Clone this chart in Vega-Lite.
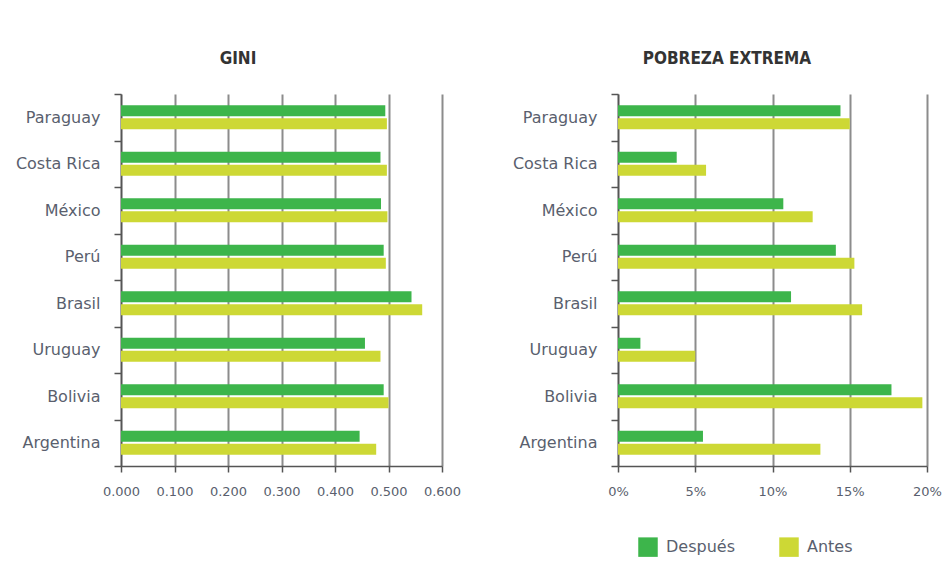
{
  "$schema": "https://vega.github.io/schema/vega-lite/v6.json",
  "background": "white",
  "padding": {"left": 15, "top": 50, "right": 10, "bottom": 5},
  "datasets": {
    "gini": [
      {"pais": "Paraguay", "serie": "Después", "valor": 0.494},
      {"pais": "Paraguay", "serie": "Antes", "valor": 0.497},
      {"pais": "Costa Rica", "serie": "Después", "valor": 0.485},
      {"pais": "Costa Rica", "serie": "Antes", "valor": 0.497},
      {"pais": "México", "serie": "Después", "valor": 0.486},
      {"pais": "México", "serie": "Antes", "valor": 0.498},
      {"pais": "Perú", "serie": "Después", "valor": 0.491},
      {"pais": "Perú", "serie": "Antes", "valor": 0.495},
      {"pais": "Brasil", "serie": "Después", "valor": 0.543},
      {"pais": "Brasil", "serie": "Antes", "valor": 0.563},
      {"pais": "Uruguay", "serie": "Después", "valor": 0.456},
      {"pais": "Uruguay", "serie": "Antes", "valor": 0.485},
      {"pais": "Bolivia", "serie": "Después", "valor": 0.491},
      {"pais": "Bolivia", "serie": "Antes", "valor": 0.500},
      {"pais": "Argentina", "serie": "Después", "valor": 0.446},
      {"pais": "Argentina", "serie": "Antes", "valor": 0.477}
    ],
    "pobreza": [
      {"pais": "Paraguay", "serie": "Después", "valor": 0.144},
      {"pais": "Paraguay", "serie": "Antes", "valor": 0.150},
      {"pais": "Costa Rica", "serie": "Después", "valor": 0.038},
      {"pais": "Costa Rica", "serie": "Antes", "valor": 0.057},
      {"pais": "México", "serie": "Después", "valor": 0.107},
      {"pais": "México", "serie": "Antes", "valor": 0.126},
      {"pais": "Perú", "serie": "Después", "valor": 0.141},
      {"pais": "Perú", "serie": "Antes", "valor": 0.153},
      {"pais": "Brasil", "serie": "Después", "valor": 0.112},
      {"pais": "Brasil", "serie": "Antes", "valor": 0.158},
      {"pais": "Uruguay", "serie": "Después", "valor": 0.0145},
      {"pais": "Uruguay", "serie": "Antes", "valor": 0.050},
      {"pais": "Bolivia", "serie": "Después", "valor": 0.177},
      {"pais": "Bolivia", "serie": "Antes", "valor": 0.197},
      {"pais": "Argentina", "serie": "Después", "valor": 0.055},
      {"pais": "Argentina", "serie": "Antes", "valor": 0.131}
    ]
  },
  "config": {
    "font": "DejaVu Sans",
    "view": {"stroke": null},
    "title": {"fontSize": 17, "fontWeight": "bold", "color": "#333333", "font": "DejaVu Sans Condensed", "offset": 18, "frame": "bounds", "anchor": "middle"},
    "axis": {
      "labelColor": "#5a5f6e",
      "labelFont": "DejaVu Sans",
      "domainColor": "#555555",
      "tickColor": "#555555",
      "gridColor": "#8c8c8c",
      "title": null
    },
    "legend": {"labelFont": "DejaVu Sans"}
  },
  "hconcat": [
    {
      "title": "GINI",
      "data": {"name": "gini"},
      "width": 321,
      "height": 372,
      "mark": {"type": "bar", "clip": false},
      "encoding": {
        "y": {
          "field": "pais", "type": "nominal",
          "sort": ["Paraguay", "Costa Rica", "México", "Perú", "Brasil", "Uruguay", "Bolivia", "Argentina"],
          "scale": {"paddingInner": 0, "paddingOuter": 0},
          "axis": {"tickBand": "extent", "tickSize": 7, "labelPadding": 14, "labelFontSize": 16, "domainWidth": 1.5, "tickWidth": 1.5}
        },
        "yOffset": {
          "field": "serie", "type": "nominal",
          "sort": ["Después", "Antes"],
          "scale": {"paddingInner": 0.15, "paddingOuter": 0.87}
        },
        "x": {
          "field": "valor", "type": "quantitative",
          "scale": {"domain": [0, 0.6], "nice": false},
          "axis": {"values": [0, 0.1, 0.2, 0.3, 0.4, 0.5, 0.6], "format": ".3f", "labelFlush": false, "tickSize": 6, "labelPadding": 13, "labelFontSize": 13, "gridWidth": 2, "domainWidth": 1.5, "tickWidth": 1.5}
        },
        "color": {
          "field": "serie", "type": "nominal",
          "scale": {"domain": ["Después", "Antes"], "range": ["#3db54b", "#cdd835"]},
          "legend": null
        }
      }
    },
    {
      "title": "POBREZA EXTREMA",
      "data": {"name": "pobreza"},
      "width": 309,
      "height": 372,
      "mark": {"type": "bar", "clip": false},
      "encoding": {
        "y": {
          "field": "pais", "type": "nominal",
          "sort": ["Paraguay", "Costa Rica", "México", "Perú", "Brasil", "Uruguay", "Bolivia", "Argentina"],
          "scale": {"paddingInner": 0, "paddingOuter": 0},
          "axis": {"tickBand": "extent", "tickSize": 7, "labelPadding": 14, "labelFontSize": 16, "domainWidth": 1.5, "tickWidth": 1.5}
        },
        "yOffset": {
          "field": "serie", "type": "nominal",
          "sort": ["Después", "Antes"],
          "scale": {"paddingInner": 0.15, "paddingOuter": 0.87}
        },
        "x": {
          "field": "valor", "type": "quantitative",
          "scale": {"domain": [0, 0.2], "nice": false},
          "axis": {"values": [0, 0.05, 0.1, 0.15, 0.2], "format": ".0%", "labelFlush": false, "tickSize": 6, "labelPadding": 13, "labelFontSize": 13, "gridWidth": 2, "domainWidth": 1.5, "tickWidth": 1.5}
        },
        "color": {
          "field": "serie", "type": "nominal",
          "scale": {"domain": ["Después", "Antes"], "range": ["#3db54b", "#cdd835"]},
          "legend": {"orient": "none", "legendX": 20, "legendY": 443, "direction": "horizontal", "title": null, "symbolType": "square", "symbolSize": 380, "labelFontSize": 16, "labelColor": "#5a5f6e", "columnPadding": 44, "labelOffset": 8, "symbolStrokeWidth": 0}
        }
      }
    }
  ],
  "spacing": 51,
  "resolve": {"scale": {"color": "independent", "x": "independent", "y": "independent"}}
}
